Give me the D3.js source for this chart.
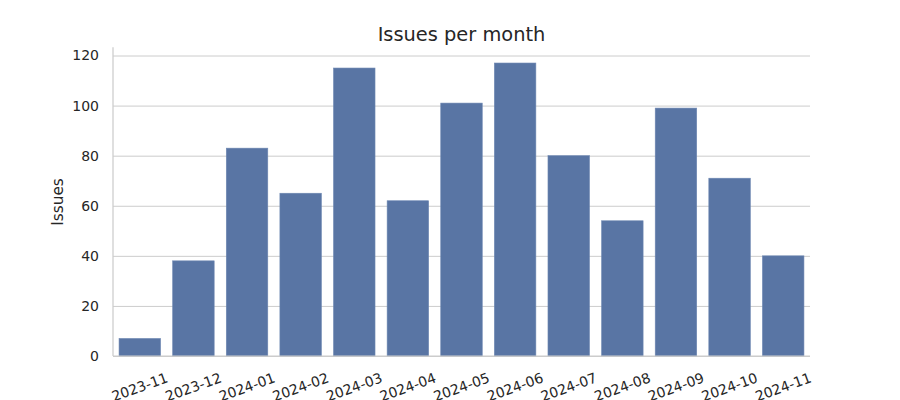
<!DOCTYPE html>
<html>
<head>
<meta charset="utf-8">
<script src="https://cdn.jsdelivr.net/npm/d3@7"></script>
<style>
  html, body { margin: 0; padding: 0; background: #ffffff; }
  svg { display: block; font-family: "DejaVu Sans", sans-serif; }
</style>
</head>
<body>
<svg id="chart" width="900" height="400"></svg>
<script>
const months = ["2023-11","2023-12","2024-01","2024-02","2024-03","2024-04","2024-05","2024-06","2024-07","2024-08","2024-09","2024-10","2024-11"];
const issues = [7, 38, 83, 65, 115, 62, 101, 117, 80, 54, 99, 71, 40];
const yTicks = [0, 20, 40, 60, 80, 100, 120];
const title = "Issues per month";
const yLabel = "Issues";

const svg = d3.select("#chart");
const mLeft = 113, mRight = 810, mTop = 48, mBottom = 356;
const textColor = "#262626";
const gridColor = "#cccccc";

const x = d3.scaleBand().domain(months).range([mLeft, mRight]).paddingInner(0.226).paddingOuter(0.113);
const y = d3.scaleLinear().domain([0, 123]).range([mBottom, mTop]);

// grid
const yAxis = d3.axisLeft(y).tickValues(yTicks).tickSize(-(mRight - mLeft)).tickPadding(14);
const gy = svg.append("g").attr("transform", `translate(${mLeft},0)`).call(yAxis);
gy.select(".domain").remove();
gy.selectAll(".tick line").attr("stroke", gridColor).attr("stroke-width", 1);
gy.selectAll(".tick text").attr("font-size", 14).attr("fill", textColor)
  .attr("font-family", "DejaVu Sans");

// bars
svg.append("g").selectAll("rect").data(months).join("rect")
  .attr("x", d => x(d))
  .attr("width", x.bandwidth())
  .attr("y", (d, i) => y(issues[i]))
  .attr("height", (d, i) => y(0) - y(issues[i]))
  .attr("fill", "#5975a4")
  .attr("stroke", "#6d87b2")
  .attr("stroke-width", 0.6);

// x axis
const xAxis = d3.axisBottom(x).tickSize(0).tickPadding(0);
const gx = svg.append("g").attr("transform", `translate(0,${mBottom})`).call(xAxis);
gx.select(".domain").remove();
gx.selectAll(".tick text")
  .attr("font-size", 14).attr("fill", textColor).attr("font-family", "DejaVu Sans")
  .attr("text-anchor", "middle")
  .attr("y", 0).attr("dy", "0.35em")
  .attr("transform", "translate(0,31) rotate(-20)");

// spines
svg.append("line").attr("x1", mLeft).attr("x2", mLeft).attr("y1", mTop - 0.7).attr("y2", mBottom)
  .attr("stroke", gridColor).attr("stroke-width", 1.25);
svg.append("line").attr("x1", mLeft).attr("x2", mRight).attr("y1", mBottom).attr("y2", mBottom)
  .attr("stroke", gridColor).attr("stroke-width", 1.25);

// title
svg.append("text").attr("x", (mLeft + mRight) / 2).attr("y", 40.5)
  .attr("text-anchor", "middle").attr("font-size", 19.4).attr("fill", textColor)
  .text(title);

// y label
svg.append("text").attr("transform", `translate(62.5,${(mTop + mBottom) / 2}) rotate(-90)`)
  .attr("text-anchor", "middle").attr("font-size", 15.3).attr("fill", textColor)
  .text(yLabel);
</script>
</body>
</html>
